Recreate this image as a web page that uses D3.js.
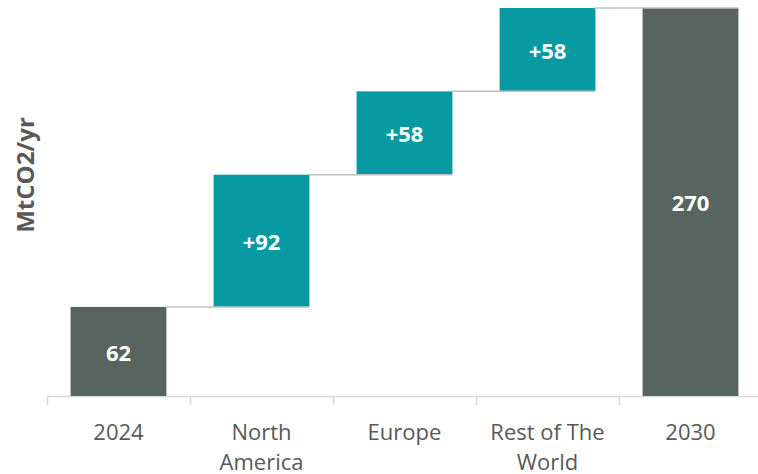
<!DOCTYPE html>
<html><head><meta charset="utf-8">
<script src="https://cdn.jsdelivr.net/npm/d3@7"></script>
<style>body{margin:0;background:#fff}svg{display:block}</style>
</head><body><svg id="c" width="758" height="474"></svg>
<script>
const categories = ["2024", "North America", "Europe", "Rest of The World", "2030"];
const labelLines = [["2024"], ["North", "America"], ["Europe"], ["Rest of The", "World"], ["2030"]];
const values = [62, 92, 58, 58, 270];
const kinds = ["total", "delta", "delta", "delta", "total"];
const valueLabels = ["62", "+92", "+58", "+58", "270"];
const yAxisTitle = "MtCO2/yr";

const svg = d3.select("#c");
const font = "'Open Sans', 'Noto Sans', sans-serif";
const x = d3.scaleBand().domain(categories).range([47, 762]).paddingInner(0.33).paddingOuter(0.165);
const y = d3.scaleLinear().domain([0, 270]).range([396, 8]);

let run = 0;
const bars = categories.map((c, i) => {
  let lo, hi;
  if (kinds[i] === "total") { lo = 0; hi = values[i]; run = values[i]; }
  else { lo = run; hi = run + values[i]; run = hi; }
  return {c, lo, hi, kind: kinds[i], label: valueLabels[i]};
});

// axis
const axis = svg.append("g");
axis.append("line").attr("x1", 47).attr("x2", 758).attr("y1", 396.5).attr("y2", 396.5)
  .attr("stroke", "#d9d9d9").attr("stroke-width", 1.5);
categories.forEach((c, i) => {
  const tx = Math.round(x(c) - x.step() * 0.33 / 2) + 0.5;
  axis.append("line").attr("x1", tx).attr("x2", tx).attr("y1", 396).attr("y2", 405)
    .attr("stroke", "#d9d9d9").attr("stroke-width", 1.5);
  const t = axis.append("text").attr("x", x(c) + x.bandwidth() / 2).attr("y", 440)
    .attr("text-anchor", "middle").attr("fill", "#595959")
    .style("font-family", font).style("font-size", "22px");
  labelLines[i].forEach((l, k) => t.append("tspan").attr("x", x(c) + x.bandwidth() / 2).attr("dy", k ? 30 : 0).text(l));
});

svg.selectAll("rect.bar").data(bars).join("rect").attr("class", "bar")
  .attr("x", d => x(d.c)).attr("width", x.bandwidth())
  .attr("y", d => y(d.hi)).attr("height", d => y(d.lo) - y(d.hi))
  .attr("fill", d => d.kind === "total" ? "#586460" : "#089aa3");

// connectors
for (let i = 0; i < bars.length - 1; i++) {
  const yy = y(bars[i].hi);
  svg.append("line").attr("x1", x(bars[i].c) + x.bandwidth() - 1).attr("x2", x(bars[i + 1].c) + x.bandwidth())
    .attr("y1", yy).attr("y2", yy).attr("stroke", "#c0c0c0").attr("stroke-width", 1.5);
}

svg.selectAll("text.val").data(bars).join("text").attr("class", "val")
  .attr("x", d => x(d.c) + x.bandwidth() / 2).attr("y", d => (y(d.lo) + y(d.hi)) / 2)
  .attr("dy", "0.42em").attr("text-anchor", "middle").attr("fill", "#fff")
  .style("font-family", font).style("font-size", "22px").style("font-weight", "bold")
  .text(d => d.label);

svg.append("text").attr("transform", "translate(34,175) rotate(-90)")
  .attr("text-anchor", "middle").attr("fill", "#595959")
  .style("font-family", font).style("font-size", "24px").style("font-weight", "bold")
  .text(yAxisTitle);
</script></body></html>
